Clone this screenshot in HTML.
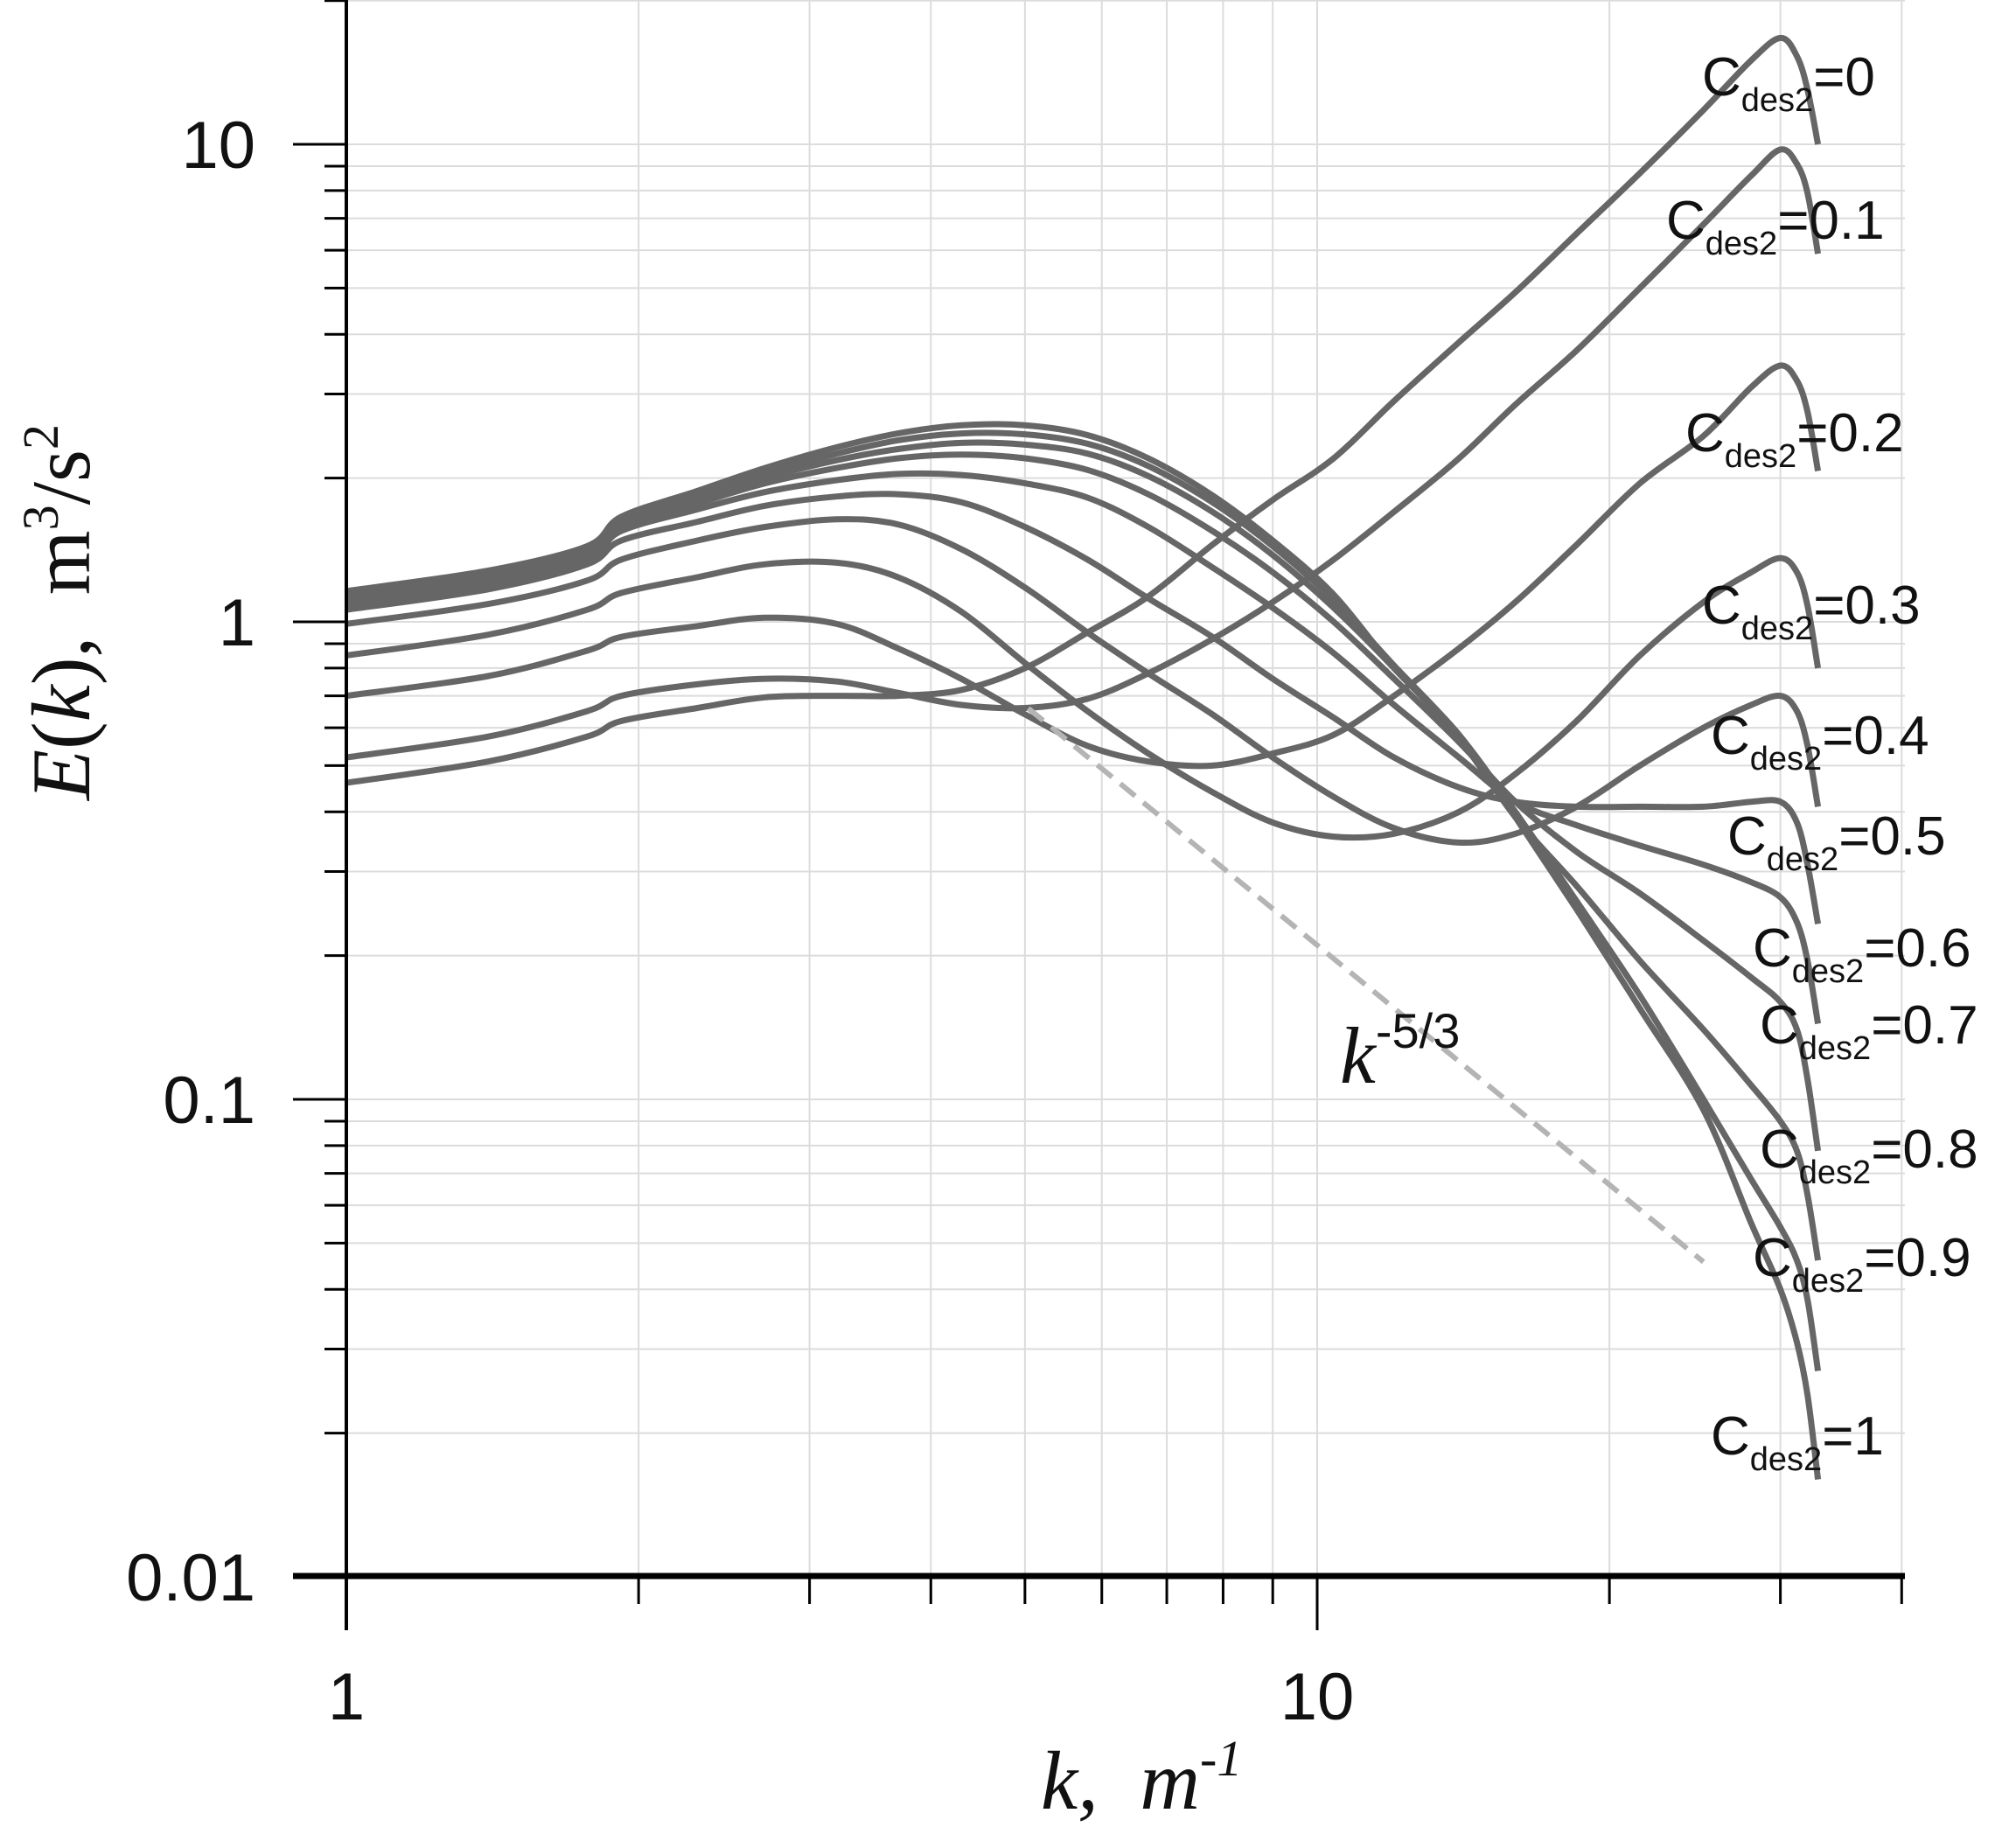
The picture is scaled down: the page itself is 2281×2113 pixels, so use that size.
<!DOCTYPE html>
<html><head><meta charset="utf-8"><style>
html,body{margin:0;padding:0;background:#fff;}
svg{display:block;}
</style></head><body>
<svg id="chart" xmlns="http://www.w3.org/2000/svg" width="2281" height="2113" viewBox="0 0 2281 2113">
<g id="grid"></g>
<g id="series"></g>
<g id="axes"></g>
<g id="labels"></g>
<text x="1532" y="1238" font-family="Liberation Serif, serif" font-style="italic" font-size="92" fill="#111">k<tspan font-family="Liberation Sans, sans-serif" font-style="normal" font-size="56" dy="-40">-5/3</tspan></text>
<text x="1190" y="2068" font-family="Liberation Serif, serif" font-style="italic" font-size="95" fill="#111" xml:space="preserve">k,  m<tspan font-size="58" dy="-38">-1</tspan></text>
<text transform="translate(102,700) rotate(-90)" text-anchor="middle" font-family="Liberation Serif, serif" font-size="95" fill="#111" xml:space="preserve"><tspan font-style="italic">E</tspan>(<tspan font-style="italic">k</tspan>),  m<tspan font-size="58" dy="-36">3</tspan><tspan dy="36">/s</tspan><tspan font-size="58" dy="-36">2</tspan></text>
</svg>
<script>
const K = [1, 1.4, 1.77, 1.92, 2.3, 2.7, 3.2, 3.7, 4.3, 5, 5.8, 6.7, 7.8, 9, 10.4, 12, 14, 16, 18.5, 21.5, 25, 28, 30, 31.2, 32, 32.8];
const seriesNames = ["0","0.1","0.2","0.3","0.4","0.5","0.6","0.7","0.8","0.9","1"];
const E_c00 = [0.46,0.51,0.575,0.62,0.66,0.695,0.70,0.70,0.72,0.80,0.95,1.13,1.45,1.8,2.2,2.9,3.85,4.9,6.5,8.7,11.8,15.0,16.7,15.3,13.0,10.0];
const E_c01 = [0.52,0.575,0.65,0.70,0.74,0.76,0.75,0.71,0.67,0.66,0.69,0.78,0.92,1.1,1.35,1.7,2.2,2.85,3.7,5.0,6.8,8.6,9.75,9.1,7.9,5.9];
const E_c02 = [0.70,0.77,0.87,0.93,0.98,1.02,0.99,0.88,0.76,0.64,0.55,0.51,0.50,0.53,0.58,0.70,0.88,1.1,1.45,1.95,2.45,3.1,3.44,3.2,2.75,2.07];
const E_c03 = [0.85,0.94,1.06,1.15,1.24,1.32,1.33,1.24,1.05,0.82,0.65,0.53,0.44,0.38,0.355,0.36,0.40,0.48,0.62,0.85,1.1,1.27,1.36,1.27,1.08,0.80];
const E_c04 = [0.99,1.09,1.22,1.35,1.48,1.58,1.64,1.60,1.42,1.18,0.95,0.78,0.64,0.52,0.43,0.37,0.345,0.36,0.41,0.5,0.6,0.67,0.70,0.65,0.55,0.41];
const E_c05 = [1.06,1.17,1.32,1.48,1.62,1.75,1.83,1.85,1.78,1.58,1.35,1.12,0.93,0.76,0.63,0.52,0.45,0.42,0.41,0.41,0.41,0.42,0.42,0.38,0.31,0.233];
const E_c06 = [1.08,1.2,1.36,1.55,1.72,1.87,1.98,2.04,2.03,1.95,1.82,1.58,1.3,1.07,0.86,0.67,0.52,0.42,0.375,0.34,0.31,0.285,0.265,0.235,0.195,0.144];
const E_c07 = [1.10,1.22,1.38,1.58,1.77,1.95,2.1,2.2,2.24,2.2,2.08,1.85,1.55,1.27,1.0,0.76,0.56,0.42,0.33,0.27,0.215,0.18,0.16,0.14,0.11,0.078];
const E_c08 = [1.12,1.24,1.4,1.6,1.8,2.0,2.18,2.3,2.37,2.35,2.25,2.02,1.7,1.38,1.07,0.8,0.57,0.39,0.28,0.195,0.14,0.107,0.09,0.078,0.063,0.046];
const E_c09 = [1.14,1.26,1.42,1.63,1.84,2.05,2.25,2.4,2.48,2.47,2.36,2.12,1.78,1.44,1.11,0.81,0.58,0.4,0.26,0.165,0.1,0.068,0.054,0.046,0.038,0.027];
const E_c10 = [1.16,1.28,1.44,1.66,1.88,2.1,2.32,2.48,2.58,2.58,2.46,2.2,1.84,1.48,1.14,0.8,0.58,0.39,0.25,0.155,0.095,0.055,0.04,0.031,0.024,0.016];
const seriesValues = [E_c00,E_c01,E_c02,E_c03,E_c04,E_c05,E_c06,E_c07,E_c08,E_c09,E_c10];
const slopeK = [5.04, 25];
const slopeE0 = 0.659;
const xTickLabels = ["1","10"];
const yTickLabels = ["0.01","0.1","1","10"];
const labelPos = [[1946,109],[1905,273],[1927,516],[1946,713],[1956,862],[1975,977],[2004,1105],[2012,1193],[2012,1335],[2004,1459],[1956,1663]];

const NS = "http://www.w3.org/2000/svg";
const X = k => 396 + 1110 * Math.log10(k);
const Y = e => 711 - 546 * Math.log10(e);
function mk(tag, parent, attrs){const el=document.createElementNS(NS,tag);for(const a in attrs)el.setAttribute(a,attrs[a]);parent.appendChild(el);return el;}
const grid=document.getElementById('grid'), ser=document.getElementById('series'), axes=document.getElementById('axes'), lab=document.getElementById('labels');

const kTicks=[2,3,4,5,6,7,8,9,10,20,30,40];
kTicks.forEach(k=>{const l=mk('line',grid,{x1:X(k),x2:X(k),y1:0,y2:1802,stroke:'#dcdcdc','stroke-width':2});

});
for(let d=-2;d<=1;d++){for(let m=1;m<=9;m++){const e=m*Math.pow(10,d);if(e<=0.01)continue;if(e>20)continue;
const l=mk('line',grid,{x1:396,x2:2178,y1:Y(e),y2:Y(e),stroke:'#dcdcdc','stroke-width':2});

}}
{const l=mk('line',grid,{x1:396,x2:2178,y1:Y(20),y2:Y(20),stroke:'#dcdcdc','stroke-width':2});

}

function smooth(pts){let d='M'+pts[0][0].toFixed(1)+','+pts[0][1].toFixed(1);
for(let i=0;i<pts.length-1;i++){const p0=pts[i-1]||pts[i],p1=pts[i],p2=pts[i+1],p3=pts[i+2]||p2;
const c1=[p1[0]+(p2[0]-p0[0])/6,p1[1]+(p2[1]-p0[1])/6],c2=[p2[0]-(p3[0]-p1[0])/6,p2[1]-(p3[1]-p1[1])/6];
d+=' C'+c1[0].toFixed(1)+','+c1[1].toFixed(1)+' '+c2[0].toFixed(1)+','+c2[1].toFixed(1)+' '+p2[0].toFixed(1)+','+p2[1].toFixed(1);}
return d;}
seriesValues.forEach((vals,i)=>{const pts=K.map((k,j)=>[X(k),Y(vals[j])]);
const p=mk('path',ser,{d:smooth(pts),fill:'none',stroke:'#666','stroke-width':7,'stroke-linejoin':'round'});

});
{const e1=slopeE0*Math.pow(slopeK[1]/slopeK[0],-5/3);
const l=mk('line',ser,{x1:X(slopeK[0]),y1:Y(slopeE0),x2:X(slopeK[1]),y2:Y(e1),stroke:'#b4b4b4','stroke-width':6,'stroke-dasharray':'22,12'});

}

{const a=mk('line',axes,{x1:396,x2:396,y1:0,y2:1864,stroke:'#000','stroke-width':4});


const b=mk('line',axes,{x1:335,x2:2178,y1:1802,y2:1802,stroke:'#000','stroke-width':7});

}
kTicks.forEach(k=>{const major=(k===10);const t=mk('line',axes,{x1:X(k),x2:X(k),y1:1802,y2:major?1864:1834,stroke:'#000','stroke-width':3});

});
for(let d=-2;d<=1;d++){for(let m=1;m<=9;m++){const e=m*Math.pow(10,d);if(e>20)continue;
const t=mk('line',axes,{x1:m===1?335:371,x2:396,y1:Y(e),y2:Y(e),stroke:'#000','stroke-width':3});

}}
{const t=mk('line',axes,{x1:371,x2:396,y1:Y(20),y2:Y(20),stroke:'#000','stroke-width':3});

}
xTickLabels.forEach(s=>{const t=mk('text',axes,{x:X(parseFloat(s)),y:1966,'text-anchor':'middle','font-family':'Liberation Sans, sans-serif','font-size':76,fill:'#111'});t.textContent=s;

});
yTickLabels.forEach(s=>{const t=mk('text',axes,{x:292,y:Y(parseFloat(s))+27,'text-anchor':'end','font-family':'Liberation Sans, sans-serif','font-size':76,fill:'#111'});t.textContent=s;

});

seriesNames.forEach((n,i)=>{const t=mk('text',lab,{x:labelPos[i][0],y:labelPos[i][1],'font-family':'Liberation Sans, sans-serif','font-size':62,fill:'#111'});


t.appendChild(document.createTextNode('C'));
const s=mk('tspan',t,{'font-size':38,dy:18});s.textContent='des2';
const v=mk('tspan',t,{'font-size':62,dy:-18});v.textContent='='+n;});
</script>
</body></html>
